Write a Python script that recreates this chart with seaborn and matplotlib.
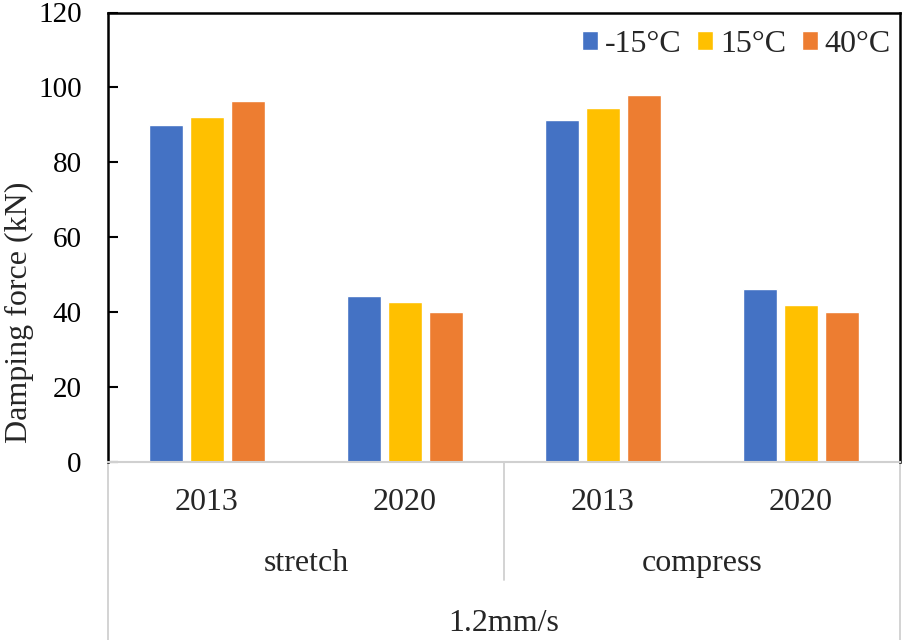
import pandas as pd
import matplotlib
matplotlib.use("Agg")
import matplotlib.pyplot as plt
import seaborn as sns

# -------------------------------------------------
# Data
# -------------------------------------------------
modes = ["stretch", "stretch", "compress", "compress"]
years = ["2013", "2020", "2013", "2020"]
speed = "1.2mm/s"
temps = ["-15°C", "15°C", "40°C"]
force_m15 = [89.9, 44.3, 91.3, 46.1]
force_15 = [92.0, 42.6, 94.4, 41.8]
force_40 = [96.3, 40.0, 98.0, 40.1]
colors = ["#4472C4", "#FFC000", "#ED7D31"]

wide = pd.DataFrame({
    "cat": [m + " " + y for m, y in zip(modes, years)],
    temps[0]: force_m15,
    temps[1]: force_15,
    temps[2]: force_40,
})
df = wide.melt(id_vars="cat", var_name="temp", value_name="force")

# -------------------------------------------------
# Plot Settings
# -------------------------------------------------
sns.set_theme(style="white")
plt.rcParams["font.family"] = ["Liberation Serif", "DejaVu Serif"]
fs = 23

fig = plt.figure(figsize=(9.05, 6.4), dpi=100)
ax = fig.add_axes([108 / 905, 1 - 462 / 640, 792 / 905, 449.5 / 640])

sns.barplot(
    data=df, x="cat", y="force", hue="temp",
    hue_order=temps, palette=colors,
    width=0.62, gap=0.17, saturation=1, ax=ax
)

ax.set_ylim(0, 120)
ax.set_xlim(-0.5, 3.5)
ax.set_yticks(range(0, 121, 20))
ax.tick_params(axis="y", direction="in", length=7, width=1.5,
               labelsize=21, pad=19, left=True, colors="black")
ax.tick_params(axis="x", bottom=False, labelbottom=False)
ax.set_xlabel("")
ax.set_ylabel("Damping force (kN)", fontsize=fs)
ax.yaxis.set_label_coords(-0.094, 0.332)

for s in ["top", "right", "left"]:
    ax.spines[s].set_color("black")
    ax.spines[s].set_linewidth(1.8)
ax.spines["bottom"].set_color("#D0D0D0")
ax.spines["bottom"].set_linewidth(1.5)

# multi-level category axis
xt = ax.get_xaxis_transform()
for i, y in enumerate(years):
    ax.text(i, -0.089, y, transform=xt, ha="center", va="center", fontsize=fs)
ax.text(0.5, -0.225, "stretch", transform=xt, ha="center", va="center", fontsize=fs)
ax.text(2.5, -0.225, "compress", transform=xt, ha="center", va="center", fontsize=fs)
ax.text(1.5, -0.359, speed, transform=xt, ha="center", va="center", fontsize=fs)

line_kw = dict(transform=xt, color="#D0D0D0", lw=1.3, clip_on=False)
ax.plot([-0.5, -0.5], [0, -0.40], **line_kw)
ax.plot([3.5, 3.5], [0, -0.40], **line_kw)
ax.plot([1.5, 1.5], [0, -0.263], **line_kw)

ax.legend(
    loc="center right", bbox_to_anchor=(0.988, 0.929), ncol=3, frameon=False,
    fontsize=fs, handlelength=0.5, handleheight=0.5, handletextpad=0.2,
    columnspacing=0.5, borderaxespad=0, borderpad=0
)

fig.savefig("out.png", dpi=100)
